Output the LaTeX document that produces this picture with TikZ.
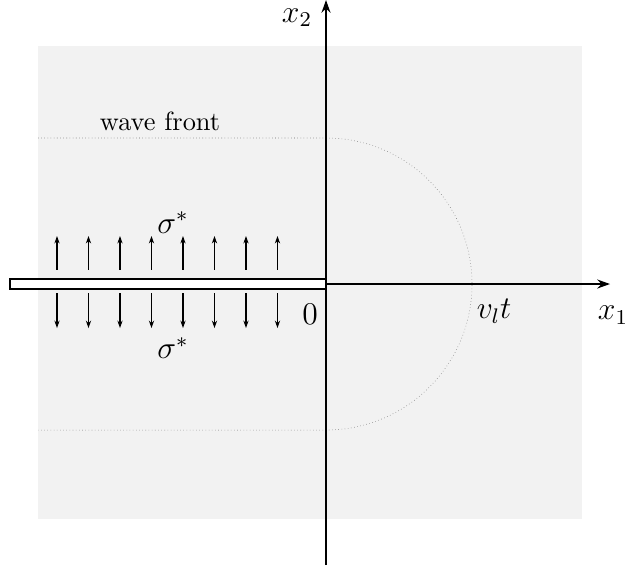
\documentclass[tikz,border=0pt]{standalone}
\usetikzlibrary{arrows.meta}
\begin{document}
\begin{tikzpicture}[thick, axis/.style = {semithick, -{Stealth[length=1.7mm, width=1.2mm]}}, front/.style = {densely dotted, very thin, gray!80!black}, load/.style = {thin, -{Stealth[length=1mm, width=0.7mm]}}, lbl/.style = {font=\large}]
        \useasboundingbox (-4.347,-3.853) rectangle (4.0,3.787);
        \fill[gray!10] (-3.84,-3.133) rectangle (3.413,3.173);
        \coordinate (0) at (0,0);
        \coordinate (top) at (0,3.787);
        \coordinate (bot) at (0,-3.747);
        \coordinate (right) at (3.787,0);
        % wave front
        \draw[front] (-3.84,1.947) -- (0,1.947) arc (90:-90:1.947) -- (-3.84,-1.947);
        % axes
        \draw[axis] (bot) -- (top);
        \draw[axis] (0) -- (right);
        % crack
        \draw[semithick, fill=white] (-4.213,-0.067) rectangle (0,0.067);
        \foreach \i in {0,...,7} {
            \coordinate (u\i) at (-3.587+0.42*\i, 0.187);
            \coordinate (U\i) at (-3.587+0.42*\i, 0.64);
            \coordinate (d\i) at (-3.587+0.42*\i, -0.12);
            \coordinate (D\i) at (-3.587+0.42*\i, -0.587);
            \draw[load] (u\i) -- (U\i);
            \draw[load] (d\i) -- (D\i);
        }
        \node[lbl] (s1) at (-2.04,0.82) {$\sigma^*$};
        \node[lbl] (s2) at (-2.04,-0.853) {$\sigma^*$};
        \node[lbl] (o) at (-0.213,-0.4) {$0$};
        \node[lbl] (x1) at (3.827,-0.413) {$x_1$};
        \node[lbl] (x2) at (-0.387,3.55) {$x_2$};
        \node[lbl] (vt) at (2.24,-0.36) {$v_l t$};
        \node (wf) at (-2.213,2.173) {wave front};
    \end{tikzpicture}
\end{document}
